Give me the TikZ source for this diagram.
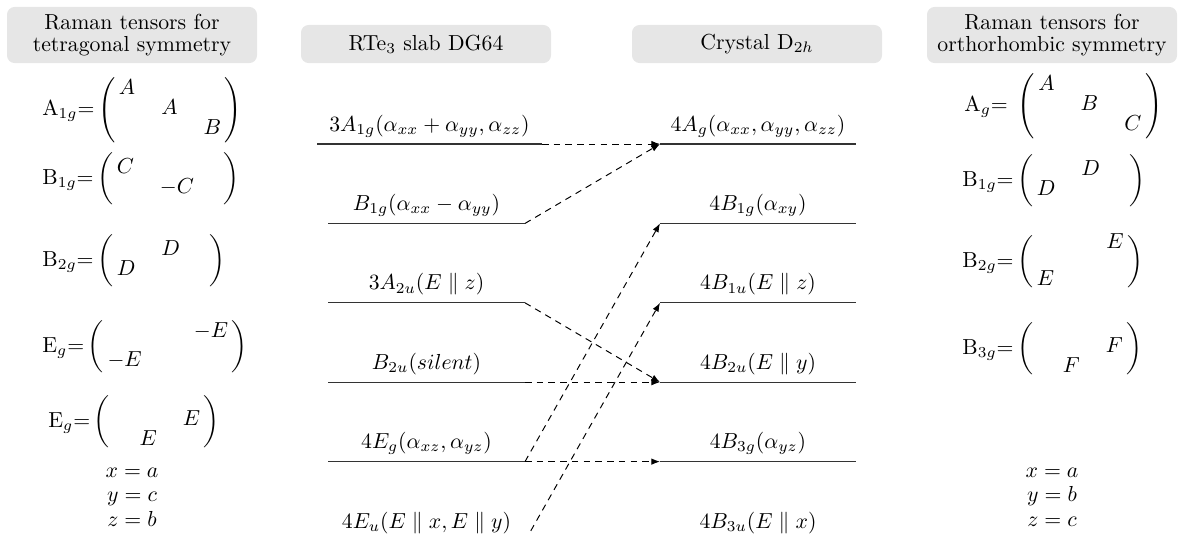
\documentclass[tikz,border=0pt]{standalone}
\usepackage{amsmath}
\usetikzlibrary{arrows.meta, calc}
\definecolor{boxgray}{RGB}{230, 230, 230}
\newcommand{\rtens}[1]{\left(\vcenter{\hbox{\rule{0pt}{26pt}}}\begin{array}{@{\,}ccc@{\,}}#1\end{array}\right)}
\renewcommand{\arraystretch}{0.65}
\setlength{\arraycolsep}{6pt}

\begin{document}
\begin{tikzpicture}[x=0.46pt, y=-0.46pt,
  headbox/.style={fill=boxgray, rounded corners=3.5pt, minimum width=115pt, align=center, inner sep=0pt, font=\fontsize{10}{10.5}\selectfont},
  level/.style={draw=black!80, line width=0.5pt},
  link/.style={-{Latex[length=4pt, width=3pt]}, dash pattern=on 3pt off 2.4pt, line width=0.45pt},
  lvlabel/.style={anchor=base, inner sep=0pt},
  tens/.style={anchor=west, inner sep=0pt}]
  \useasboundingbox (0,0) rectangle (1178,534);
  \clip (0,0) rectangle (1178,534);

  % headings
  \node[headbox, minimum height=25.8pt] (htet) at (132,35) {Raman tensors for\\tetragonal symmetry};
  \node[headbox, minimum height=17.5pt] (hslab) at (426,44) {RTe$_3$ slab DG64};
  \node[headbox, minimum height=17.5pt] (hcrys) at (757,44) {Crystal D$_{2h}$};
  \node[headbox, minimum height=25.8pt] (hort) at (1052,35) {Raman tensors for\\orthorhombic symmetry};

  % tetragonal tensors
  \node[tens] (tA1g) at (42,110) {$\mathrm{A}_{1g}{=}\rtens{A & & \\ & A & \\ & & B}$};
  \node[tens] (tB1g) at (42,179) {$\mathrm{B}_{1g}{=}\rtens{C & & \\ & -C & }$};
  \node[tens] (tB2g) at (42,261) {$\mathrm{B}_{2g}{=}\rtens{ & D & \\ D & & }$};
  \node[tens] (tEga) at (42,347) {$\mathrm{E}_{g}{=}\rtens{ & & -E \\[4pt] -E & & }$};
  \node[tens] (tEgb) at (48,422) {$\mathrm{E}_{g}{=}\rtens{ & & \\ & & E \\ & E & }$};
  \node[align=center, font=\fontsize{10}{11.3}\selectfont] (axtet) at (132,497) {$x=a$\\$y=c$\\$z=b$};

  % orthorhombic tensors
  \node[tens] (oAg) at (964,106) {$\mathrm{A}_{g}{=}\;\rtens{A & & \\ & B & \\ & & C}$};
  \node[tens] (oB1g) at (962,181) {$\mathrm{B}_{1g}{=}\rtens{ & D & \\ D & & }$};
  \node[tens] (oB2g) at (962,262) {$\mathrm{B}_{2g}{=}\rtens{ & & E \\ & & \\ E & & }$};
  \node[tens] (oB3g) at (962,349) {$\mathrm{B}_{3g}{=}\rtens{ & & \\ & & F \\ & F & }$};
  \node[align=center, font=\fontsize{10}{11.3}\selectfont] (axort) at (1052,497) {$x=a$\\$y=b$\\$z=c$};

  % slab levels
  \foreach \i/\xa/\xb/\lab in {
      1/317/542/{$3A_{1g}(\alpha_{xx}+\alpha_{yy},\alpha_{zz})$},
      2/328/525/{$B_{1g}(\alpha_{xx}-\alpha_{yy})$},
      3/328/525/{$3A_{2u}(E\parallel z)$},
      4/328/525/{$B_{2u}(silent)$},
      5/328/525/{$4E_g(\alpha_{xz},\alpha_{yz})$},
      6/328/525/{$4E_u(E\parallel x,E\parallel y)$}} {
    \coordinate (sa\i) at (\xa,{64.6+79.4*\i});
    \coordinate (sb\i) at (\xb,{64.6+79.4*\i});
    \draw[level] (sa\i) -- (sb\i);
    \node[lvlabel] (sl\i) at ($(sa\i)!0.5!(sb\i)+(0,-13)$) {\lab};
  }

  % crystal levels
  \foreach \i/\lab in {
      1/{$4A_g(\alpha_{xx},\alpha_{yy},\alpha_{zz})$},
      2/{$4B_{1g}(\alpha_{xy})$},
      3/{$4B_{1u}(E\parallel z)$},
      4/{$4B_{2u}(E\parallel y)$},
      5/{$4B_{3g}(\alpha_{yz})$},
      6/{$4B_{3u}(E\parallel x)$}} {
    \coordinate (ca\i) at (660,{64.6+79.4*\i});
    \coordinate (cb\i) at (856,{64.6+79.4*\i});
    \draw[level] (ca\i) -- (cb\i);
    \node[lvlabel] (cl\i) at ($(ca\i)!0.5!(cb\i)+(0,-13)$) {\lab};
  }

  % correlation
  \foreach \s/\t in {1/1, 2/1, 3/4, 4/4, 5/2, 5/5, 6/3, 6/6}
    \draw[link] (sb\s) -- (ca\t);
\end{tikzpicture}
\end{document}
